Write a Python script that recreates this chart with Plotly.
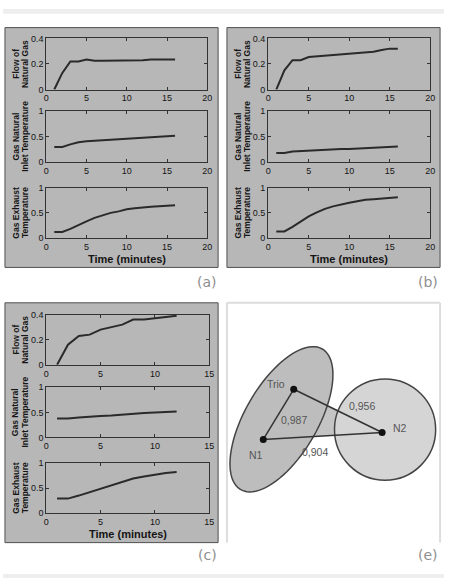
import numpy as np
import plotly.graph_objects as go

W, H = 449, 583

# ---------------- data ----------------
time_ab = [1, 2, 3, 4, 5, 6, 7, 8, 9, 10, 11, 12, 13, 14, 15, 16]
time_c = [1, 2, 3, 4, 5, 6, 7, 8, 9, 10, 11, 12]

flow_a = [0.0, 0.13, 0.22, 0.22, 0.235, 0.225, 0.225, 0.225, 0.225, 0.225, 0.23, 0.23, 0.235, 0.235, 0.235, 0.235]
inlet_a = [0.30, 0.30, 0.35, 0.39, 0.41, 0.42, 0.43, 0.44, 0.45, 0.46, 0.47, 0.48, 0.49, 0.50, 0.51, 0.52]
exhaust_a = [0.12, 0.12, 0.18, 0.26, 0.33, 0.40, 0.45, 0.50, 0.53, 0.57, 0.59, 0.61, 0.62, 0.63, 0.64, 0.65]

flow_b = [0.0, 0.15, 0.23, 0.23, 0.255, 0.26, 0.27, 0.275, 0.28, 0.285, 0.29, 0.29, 0.295, 0.31, 0.32, 0.32]
inlet_b = [0.18, 0.18, 0.21, 0.22, 0.23, 0.24, 0.25, 0.25, 0.26, 0.26, 0.27, 0.28, 0.29, 0.30, 0.31, 0.31]
exhaust_b = [0.13, 0.13, 0.22, 0.33, 0.43, 0.51, 0.58, 0.63, 0.67, 0.70, 0.73, 0.76, 0.77, 0.78, 0.80, 0.81]

flow_c = [0.0, 0.16, 0.23, 0.24, 0.28, 0.30, 0.32, 0.36, 0.36, 0.37, 0.38, 0.39]
inlet_c = [0.38, 0.38, 0.40, 0.42, 0.43, 0.44, 0.46, 0.48, 0.49, 0.50, 0.51, 0.52]
exhaust_c = [0.29, 0.29, 0.35, 0.42, 0.49, 0.56, 0.63, 0.69, 0.73, 0.77, 0.80, 0.82]

y_titles = [["Flow of", "Natural Gas"], ["Gas Natural", "Inlet Temperature"], ["Gas Exhaust", "Temperature"]]
x_title = "Time (minutes)"
panel_labels = ["(a)", "(b)", "(c)", "(e)"]

x_ticks_ab = [0, 5, 10, 15, 20]
x_ticks_c = [0, 5, 10, 15]
y_ticks_flow = [0, 0.2, 0.4]
y_ticks_temp = [0, 0.5, 1]
y_ticklabels_flow = ["0", "0.2", "0.4"]
y_ticklabels_temp = ["0", "0.5", "1"]

# network diagram (panel e)
node_names = ["Trio", "N1", "N2"]
node_x = [296, 265, 386]
node_y = [391, 442, 435]
edge_pairs = [(0, 1), (0, 2), (1, 2)]
edge_weights = ["0,987", "0,956", "0,904"]

# ---------------- helpers ----------------
def px(x):
    return x / W

def py(y):
    return 1 - y / H

fig = go.Figure()
layout = {}
shapes = []
annotations = []

BOX_GRAY = "#b7b7b7"
LINE_C = "#2a2a2a"
AX_C = "#333333"
TICK_FONT = dict(family="Liberation Sans, Arial", size=9, color="#151515")
TITLE_FONT = dict(family="Liberation Sans, Arial", size=8.5, color="#151515")

panels = [
    dict(box=(2, 23, 219, 267), xd=(44, 208), rows=[(34, 86), (108, 160), (186, 237)],
         t=time_ab, series=[flow_a, inlet_a, exhaust_a], xr=[0, 20], xt=x_ticks_ab,
         ytx=(13, 22.5), xtitle_y=258, label=(208, 282)),
    dict(box=(228, 23, 445, 267), xd=(270, 435), rows=[(34, 86), (108, 160), (186, 237)],
         t=time_ab, series=[flow_b, inlet_b, exhaust_b], xr=[0, 20], xt=x_ticks_ab,
         ytx=(239, 248.5), xtitle_y=258, label=(433, 282)),
    dict(box=(2, 303, 219, 547), xd=(44, 210), rows=[(315, 366), (389, 440), (466, 517)],
         t=time_c, series=[flow_c, inlet_c, exhaust_c], xr=[0, 15], xt=x_ticks_c,
         ytx=(13, 22.5), xtitle_y=538, label=(208, 560)),
]

n = 0
for p in panels:
    x0, y0, x1, y1 = p["box"]
    shapes.append(dict(type="rect", xref="paper", yref="paper", x0=px(x0), x1=px(x1),
                       y0=py(y1), y1=py(y0), fillcolor=BOX_GRAY,
                       line=dict(color="#505050", width=1), layer="below"))
    for r in range(3):
        n += 1
        xa = "x" if n == 1 else f"x{n}"
        ya = "y" if n == 1 else f"y{n}"
        ta, tb = p["rows"][r]
        fig.add_trace(go.Scatter(x=p["t"], y=p["series"][r], mode="lines",
                                 line=dict(color=LINE_C, width=2),
                                 xaxis=xa, yaxis=ya, showlegend=False, hoverinfo="skip"))
        if r == 0:
            yr, yt, ytl = [0, 0.4], y_ticks_flow, y_ticklabels_flow
        else:
            yr, yt, ytl = [0, 1], y_ticks_temp, y_ticklabels_temp
        xkey = "xaxis" if n == 1 else f"xaxis{n}"
        ykey = "yaxis" if n == 1 else f"yaxis{n}"
        layout[xkey] = dict(domain=[px(p["xd"][0]), px(p["xd"][1])], anchor=ya,
                            range=p["xr"], tickvals=p["xt"], ticktext=[str(v) for v in p["xt"]],
                            showline=True, mirror="ticks", linecolor=AX_C, linewidth=1,
                            ticks="inside", ticklen=3, tickcolor=AX_C, tickfont=TICK_FONT,
                            ticklabelstandoff=0,
                            showgrid=False, zeroline=False, fixedrange=True)
        layout[ykey] = dict(domain=[py(tb), py(ta)], anchor=xa,
                            range=yr, tickvals=yt, ticktext=ytl,
                            showline=True, mirror="ticks", linecolor=AX_C, linewidth=1,
                            ticks="inside", ticklen=3, tickcolor=AX_C, tickfont=TICK_FONT,
                            ticklabelstandoff=0,
                            showgrid=False, zeroline=False, fixedrange=True)
        for k, line_txt in enumerate(y_titles[r]):
            annotations.append(dict(xref="paper", yref="paper", x=px(p["ytx"][k]),
                                    y=py((ta + tb) / 2), text=f"<b>{line_txt}</b>",
                                    textangle=-90, showarrow=False, font=TITLE_FONT,
                                    xanchor="center", yanchor="middle"))
    annotations.append(dict(xref="paper", yref="paper", x=px((p["xd"][0] + p["xd"][1]) / 2),
                            y=py(p["xtitle_y"]), text=f"<b>{x_title}</b>", showarrow=False,
                            font=dict(family="Liberation Sans, Arial", size=11, color="#151515"),
                            xanchor="center", yanchor="middle"))

# panel labels
label_pos = [p["label"] for p in panels] + [(433, 560)]
for lab, (lx, ly) in zip(panel_labels, label_pos):
    annotations.append(dict(xref="paper", yref="paper", x=px(lx), y=py(ly), text=lab,
                            showarrow=False, xanchor="center", yanchor="middle",
                            font=dict(family="DejaVu Sans, Noto Sans", size=14, color="#8e8e8e")))

# top and bottom light bands
shapes.append(dict(type="rect", xref="paper", yref="paper", x0=0, x1=1, y0=py(9), y1=py(4),
                   fillcolor="#eeeeee", line=dict(width=0), layer="below"))
shapes.append(dict(type="rect", xref="paper", yref="paper", x0=0, x1=1, y0=0, y1=py(579),
                   fillcolor="#eeeeee", line=dict(width=0), layer="below"))

# panel e frame (left, top, right)
for (ax0, ay0, ax1, ay1) in [(228, 303, 228, 547), (228, 303, 445, 303), (445, 303, 445, 547)]:
    shapes.append(dict(type="line", xref="paper", yref="paper", x0=px(ax0), x1=px(ax1),
                       y0=py(ay0), y1=py(ay1), line=dict(color="#dddddd", width=2), layer="below"))

# panel e axes in pixel-like units
n += 1
xe, ye = f"x{n}", f"y{n}"
layout[f"xaxis{n}"] = dict(domain=[px(229), px(444)], range=[229, 444], visible=False,
                           anchor=ye, fixedrange=True)
layout[f"yaxis{n}"] = dict(domain=[py(546), py(304)], range=[546, 304], visible=False,
                           anchor=xe, fixedrange=True)

# triangle fill (under ellipse and circle)
tri = " ".join(("M" if i == 0 else "L") + f"{node_x[i]},{node_y[i]}" for i in range(3)) + " Z"
shapes.append(dict(type="path", xref=xe, yref=ye, path=tri, fillcolor="#c4c4c4",
                   line=dict(width=0), layer="below"))

# tilted ellipse
cx, cy = 283.5, 421.5
a_len, b_len = 82.7, 37.0
ux, uy = np.array([41.5, -71.5]) / np.hypot(41.5, -71.5)
vx, vy = -uy, ux
tt = np.linspace(0, 2 * np.pi, 90)
ex = cx + a_len * np.cos(tt) * ux + b_len * np.sin(tt) * vx
ey = cy + a_len * np.cos(tt) * uy + b_len * np.sin(tt) * vy
epath = "M" + " L".join(f"{X:.2f},{Y:.2f}" for X, Y in zip(ex, ey)) + " Z"
shapes.append(dict(type="path", xref=xe, yref=ye, path=epath, fillcolor="#bdbdbd",
                   line=dict(color="#444444", width=1.5), layer="below"))

# circle around N2
ccx, ccy, rr = 389, 432, 51.5
shapes.append(dict(type="circle", xref=xe, yref=ye, x0=ccx - rr, x1=ccx + rr, y0=ccy - rr, y1=ccy + rr,
                   fillcolor="#d5d5d5", line=dict(color="#444444", width=1.5), layer="below"))

# edges
for (i, j) in edge_pairs:
    fig.add_trace(go.Scatter(x=[node_x[i], node_x[j]], y=[node_y[i], node_y[j]], mode="lines",
                             line=dict(color="#333333", width=1.5), xaxis=xe, yaxis=ye,
                             showlegend=False, hoverinfo="skip"))
# nodes
fig.add_trace(go.Scatter(x=node_x, y=node_y, mode="markers",
                         marker=dict(color="#111111", size=7), xaxis=xe, yaxis=ye,
                         showlegend=False, hoverinfo="skip"))

NFONT = dict(family="Liberation Sans, Arial", size=10.5, color="#555555")
node_lab_pos = [(278, 386), (258, 458), (404, 430)]
for name, (lx, ly) in zip(node_names, node_lab_pos):
    annotations.append(dict(xref=xe, yref=ye, x=lx, y=ly, text=name, showarrow=False,
                            font=NFONT, xanchor="center", yanchor="middle"))
edge_lab_pos = [(296, 422), (366, 408), (318, 455)]
for w, (lx, ly) in zip(edge_weights, edge_lab_pos):
    annotations.append(dict(xref=xe, yref=ye, x=lx, y=ly, text=w, showarrow=False,
                            font=NFONT, xanchor="center", yanchor="middle"))

fig.update_layout(width=W, height=H, margin=dict(l=0, r=0, t=0, b=0),
                  paper_bgcolor="white", plot_bgcolor="white",
                  shapes=shapes, annotations=annotations, showlegend=False, **layout)
fig.write_html("out.html", config={"displayModeBar": False})
